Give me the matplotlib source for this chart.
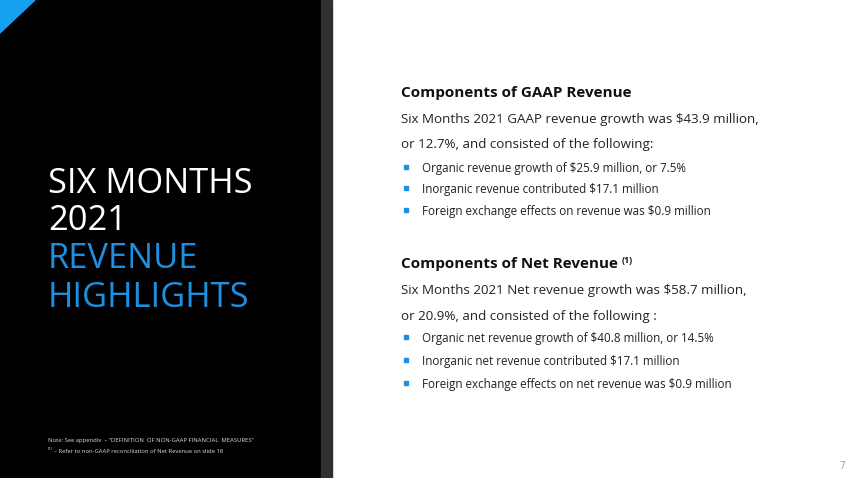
import matplotlib
matplotlib.use("Agg")
import matplotlib.pyplot as plt
from matplotlib.patches import Rectangle, Polygon

W, H = 850, 478

# ---- content ----
title_white = ["SIX MONTHS", "2021"]
title_blue = ["REVENUE", "HIGHLIGHTS"]

gaap_heading = "Components of GAAP Revenue"
gaap_body = ["Six Months 2021 GAAP revenue growth was $43.9 million,",
             "or 12.7%, and consisted of the following:"]
gaap_bullets = ["Organic revenue growth of $25.9 million, or 7.5%",
                "Inorganic revenue contributed $17.1 million",
                "Foreign exchange effects on revenue was $0.9 million"]

net_heading = "Components of Net Revenue"
net_heading_sup = "(1)"
net_body = ["Six Months 2021 Net revenue growth was $58.7 million,",
            "or 20.9%, and consisted of the following :"]
net_bullets = ["Organic net revenue growth of $40.8 million, or 14.5%",
               "Inorganic net revenue contributed $17.1 million",
               "Foreign exchange effects on net revenue was $0.9 million"]

footnotes = ["Note: See appendix  \u2013 \u201cDEFINITION  OF NON-GAAP FINANCIAL  MEASURES\u201d",
             "\u2013 Refer to non-GAAP reconciliation of Net Revenue on slide 18"]
page_number = "7"

BLUE = "#1e90e0"
FONT = "Open Sans"

fig = plt.figure(figsize=(W / 100, H / 100), dpi=100)
fig.patch.set_facecolor("white")
ax = fig.add_axes([0, 0, 1, 1])
ax.set_xlim(0, W)
ax.set_ylim(H, 0)
ax.axis("off")

# panels
ax.add_patch(Rectangle((0, 0), 321, H, color="black", zorder=0))
ax.add_patch(Rectangle((321, 0), 11, H, color="#303030", zorder=0))
ax.add_patch(Polygon([(0, 0), (35, 0), (0, 33)], closed=True, color="#16a0f0", zorder=1))

# title
tx = 48
for i, s in enumerate(title_white):
    ax.text(tx, [193, 230][i], s, color="white", fontsize=24.8, family=FONT,
            va="baseline", ha="left")
for i, s in enumerate(title_blue):
    ax.text(tx, [268, 307][i], s, color=BLUE, fontsize=24.8, family=FONT,
            va="baseline", ha="left")

# right panel
lx = 401
bx = 406
btx = 422


def section(heading, body, bullets, hy, by, bly, sup=None):
    t = ax.text(lx, hy, heading, fontsize=11.0, fontweight="bold", family=FONT,
                color="#111111", va="baseline")
    if sup:
        fig.canvas.draw()
        bb = t.get_window_extent()
        ax.text(bb.x1 / fig.dpi * 100 + 4, hy - 5, sup, fontsize=6.5, fontweight="bold",
                family=FONT, color="#111111", va="baseline")
    for s, y in zip(body, by):
        ax.text(lx, y, s, fontsize=9.6, family=FONT, color="#222222", va="baseline")
    for s, y in zip(bullets, bly):
        ax.add_patch(Rectangle((bx - 2, y - 7), 4, 4, color=BLUE))
        ax.text(btx, y, s, fontsize=8.35, family=FONT, color="#222222", va="baseline")


section(gaap_heading, gaap_body, gaap_bullets, 97, [123, 148], [172, 193, 215])
section(net_heading, net_body, net_bullets, 268, [294, 320], [342, 365, 388],
        sup=net_heading_sup)

# footnotes
ax.text(48, 442, footnotes[0], fontsize=4.2, family=FONT, color="#dddddd", va="baseline")
ax.text(48, 450, "(1)", fontsize=3.0, family=FONT, color="#dddddd", va="baseline")
ax.text(54, 453, footnotes[1], fontsize=4.2, family=FONT, color="#dddddd", va="baseline")

ax.text(842, 469, page_number, fontsize=7, family=FONT, color="#999999",
        va="baseline", ha="center")

fig.savefig("out.png", dpi=100, facecolor="white")
